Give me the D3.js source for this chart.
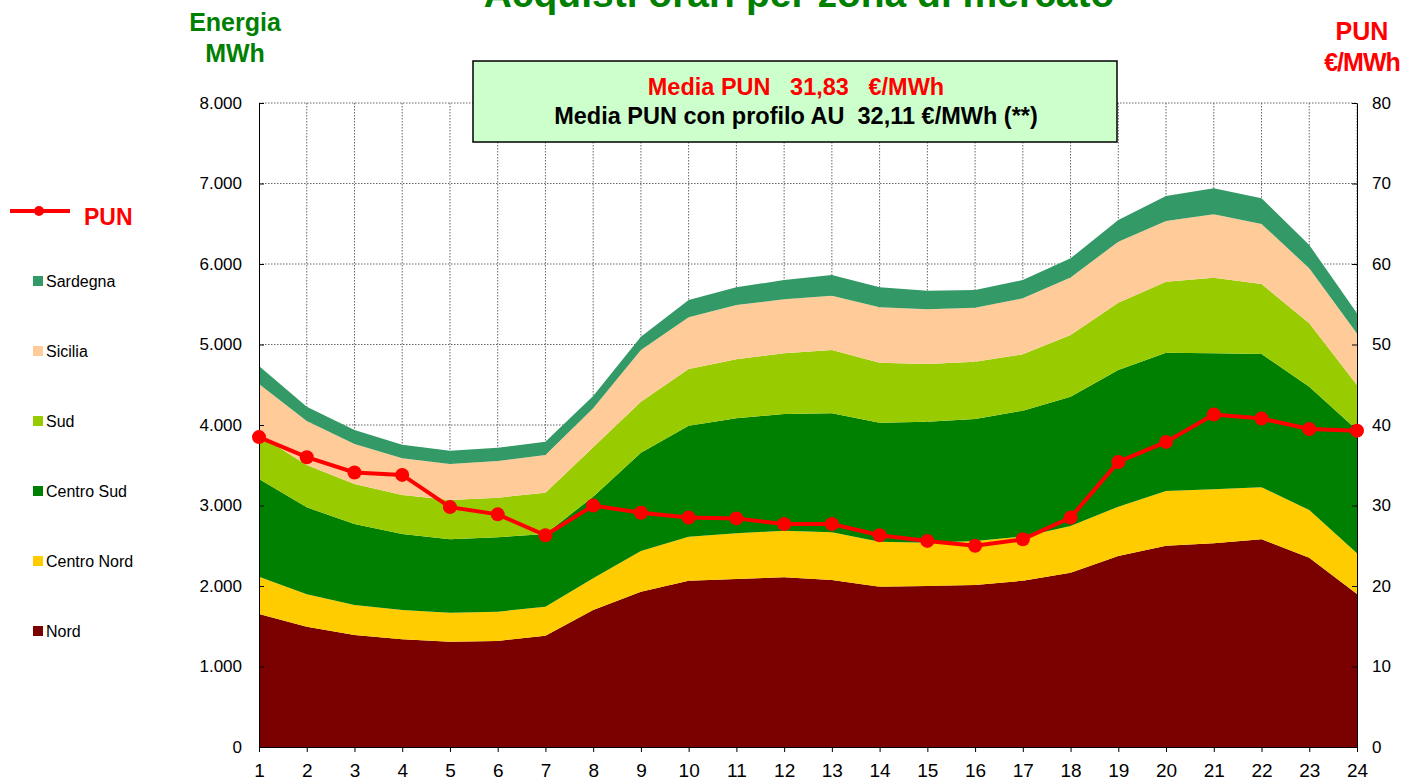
<!DOCTYPE html>
<html>
<head>
<meta charset="utf-8">
<script src="https://cdn.jsdelivr.net/npm/d3@7"></script>
<style>
  body { margin: 0; background: #fff; }
  svg text { font-family: Arial, "Liberation Sans", sans-serif; }
  .axis path, .axis line { stroke: #000; }
  .axis text { font-size: 17px; fill: #000; }
  .xaxis text { font-size: 19px; }
</style>
</head>
<body>
<div id="chart"></div>
<script>
// hours 1..24
const hours = d3.range(1, 25);

// energy purchases per zone, MWh
const nord       = [1652,1495,1391,1338,1308,1317,1383,1702,1929,2066,2087,2108,2075,1992,2000,2012,2066,2166,2373,2501,2530,2580,2352,1900];
const centroNord = [464,402,373,364,360,364,360,393,506,547,567,579,592,558,538,547,547,579,612,679,671,646,592,506];
const centroSud  = [1213,1080,1006,944,912,924,903,1015,1221,1378,1429,1450,1478,1479,1503,1516,1565,1607,1698,1718,1689,1656,1532,1532];
const sud        = [547,526,497,484,488,492,513,613,634,705,733,753,787,745,717,711,700,766,836,882,940,870,787,559];
const sicilia    = [633,547,497,456,448,456,468,484,642,642,675,671,675,688,679,671,695,714,758,754,787,745,683,641];
const sardegna   = [224,178,174,170,165,165,166,153,165,215,219,240,256,248,232,220,228,238,270,311,323,319,290,249];

// PUN €/MWh
const pun = [38.5,36.0,34.1,33.8,29.8,28.9,26.3,30.0,29.1,28.5,28.4,27.7,27.7,26.3,25.6,25.0,25.8,28.5,35.4,37.9,41.3,40.8,39.5,39.3];

const zoneNames  = ["Nord","Centro Nord","Centro Sud","Sud","Sicilia","Sardegna"];
const zoneColors = ["#7b0000","#ffcc00","#008000","#99cc00","#ffcc99","#339966"];
const zoneValues = [nord, centroNord, centroSud, sud, sicilia, sardegna];

const leftTicks  = [0,1000,2000,3000,4000,5000,6000,7000,8000];
const rightTicks = [0,10,20,30,40,50,60,70,80];

const width = 1404;
const height = 783;
const margin = {top:103, left:259, right:47, bottom:36};

const svg = d3.select("#chart")
    .append("svg")
    .attr("width", width)
    .attr("height", height);

/*
SCALES
*/
const xScale = d3.scaleLinear()
    .domain([1, 24])
    .range([margin.left, width - margin.right]);

const yScale = d3.scaleLinear()
    .domain([0, 8000])
    .range([height - margin.bottom, margin.top]);

const y2Scale = d3.scaleLinear()
    .domain([0, 80])
    .range([height - margin.bottom, margin.top]);

/*
GRID
*/
const grid = svg.append("g");
grid.selectAll(".vgrid")
    .data(hours.slice(1))
    .enter()
    .append("line")
    .attr("x1", d => xScale(d))
    .attr("x2", d => xScale(d))
    .attr("y1", yScale(8000))
    .attr("y2", yScale(0))
    .attr("stroke", "#666")
    .attr("stroke-width", 1)
    .attr("stroke-dasharray", "1.5,1.5");

grid.selectAll(".hgrid")
    .data(leftTicks.slice(1))
    .enter()
    .append("line")
    .attr("x1", xScale(1))
    .attr("x2", xScale(24))
    .attr("y1", d => yScale(d))
    .attr("y2", d => yScale(d))
    .attr("stroke", "#666")
    .attr("stroke-width", 1)
    .attr("stroke-dasharray", "1.5,1.5");

/*
STACKED AREAS
*/
const table = hours.map(function(h, i){
    const row = {hour: h};
    zoneNames.forEach(function(z, j){ row[z] = zoneValues[j][i]; });
    return row;
});

const stack = d3.stack().keys(zoneNames);
const series = stack(table);

const area = d3.area()
    .x(d => xScale(d.data.hour))
    .y0(d => yScale(d[0]))
    .y1(d => yScale(d[1]));

svg.selectAll(".area")
    .data(series)
    .enter()
    .append("path")
    .attr("class", "area")
    .attr("d", area)
    .attr("fill", (d, i) => zoneColors[i]);

/*
AXES
*/
svg.append("g")
    .attr("class", "axis")
    .attr("transform", `translate(${margin.left},0)`)
    .call(d3.axisLeft(yScale)
        .tickValues(leftTicks)
        .tickSizeInner(-5)
        .tickSizeOuter(0)
        .tickPadding(17)
        .tickFormat(d => d3.format(",")(d).replace(/,/g, ".")));

svg.append("g")
    .attr("class", "axis")
    .attr("transform", `translate(${width - margin.right},0)`)
    .call(d3.axisRight(y2Scale)
        .tickValues(rightTicks)
        .tickSizeInner(-5)
        .tickSizeOuter(0)
        .tickPadding(15));

svg.append("g")
    .attr("class", "axis xaxis")
    .attr("transform", `translate(0,${height - margin.bottom})`)
    .call(d3.axisBottom(xScale)
        .tickValues(hours)
        .tickSizeInner(5)
        .tickSizeOuter(0)
        .tickPadding(12)
        .tickFormat(d3.format("d")));

/*
PUN LINE
*/
const line = d3.line()
    .x((d, i) => xScale(hours[i]))
    .y(d => y2Scale(d));

svg.append("path")
    .datum(pun)
    .attr("d", line)
    .attr("fill", "none")
    .attr("stroke", "#ff0000")
    .attr("stroke-width", 4);

svg.selectAll(".punDot")
    .data(pun)
    .enter()
    .append("circle")
    .attr("cx", (d, i) => xScale(hours[i]))
    .attr("cy", d => y2Scale(d))
    .attr("r", 7)
    .attr("fill", "#ff0000");

/*
TITLES
*/
svg.append("text")
    .attr("x", 799)
    .attr("y", 7)
    .attr("text-anchor", "middle")
    .attr("font-size", 39)
    .attr("font-weight", "bold")
    .attr("fill", "#008000")
    .text("Acquisti orari per zona di mercato");

svg.append("text")
    .attr("x", 235)
    .attr("y", 31)
    .attr("text-anchor", "middle")
    .attr("font-size", 25)
    .attr("font-weight", "bold")
    .attr("fill", "#008000")
    .text("Energia");

svg.append("text")
    .attr("x", 235)
    .attr("y", 62)
    .attr("text-anchor", "middle")
    .attr("font-size", 25)
    .attr("font-weight", "bold")
    .attr("fill", "#008000")
    .text("MWh");

svg.append("text")
    .attr("x", 1362)
    .attr("y", 40)
    .attr("text-anchor", "middle")
    .attr("font-size", 25)
    .attr("font-weight", "bold")
    .attr("fill", "#ff0000")
    .text("PUN");

svg.append("text")
    .attr("x", 1362)
    .attr("y", 71)
    .attr("text-anchor", "middle")
    .attr("font-size", 25)
    .attr("font-weight", "bold")
    .attr("letter-spacing", "-1px")
    .attr("fill", "#ff0000")
    .text("€/MWh");

/*
INFO BOX
*/
svg.append("rect")
    .attr("x", 473)
    .attr("y", 61)
    .attr("width", 644)
    .attr("height", 81)
    .attr("fill", "#ccffcc")
    .attr("stroke", "#000")
    .attr("stroke-width", 1.5);

svg.append("text")
    .attr("x", 796)
    .attr("y", 95)
    .attr("text-anchor", "middle")
    .attr("font-size", 23.5)
    .attr("font-weight", "bold")
    .attr("fill", "#ff0000")
    .style("white-space", "pre")
    .text("Media PUN   31,83   €/MWh");

svg.append("text")
    .attr("x", 796)
    .attr("y", 124)
    .attr("text-anchor", "middle")
    .attr("font-size", 23.5)
    .attr("font-weight", "bold")
    .attr("fill", "#000")
    .style("white-space", "pre")
    .text("Media PUN con profilo AU  32,11 €/MWh (**)");

/*
LEGEND
*/
svg.append("line")
    .attr("x1", 10)
    .attr("x2", 70)
    .attr("y1", 211)
    .attr("y2", 211)
    .attr("stroke", "#ff0000")
    .attr("stroke-width", 4);

svg.append("circle")
    .attr("cx", 39)
    .attr("cy", 211)
    .attr("r", 5)
    .attr("fill", "#ff0000");

svg.append("text")
    .attr("x", 84)
    .attr("y", 225)
    .attr("font-size", 23)
    .attr("font-weight", "bold")
    .attr("fill", "#ff0000")
    .text("PUN");

const legY = 281;
const legStep = 70;
const legendOrder = zoneNames.slice().reverse();
legendOrder.forEach(function(z, i){
    const c = zoneColors[zoneNames.indexOf(z)];
    svg.append("rect")
        .attr("x", 33)
        .attr("y", legY + i*legStep - 5)
        .attr("width", 10)
        .attr("height", 10)
        .attr("fill", c);

    svg.append("text")
        .attr("x", 46)
        .attr("y", legY + i*legStep + 6)
        .attr("font-size", 16)
        .attr("fill", "#000")
        .text(z);
});
</script>
</body>
</html>
